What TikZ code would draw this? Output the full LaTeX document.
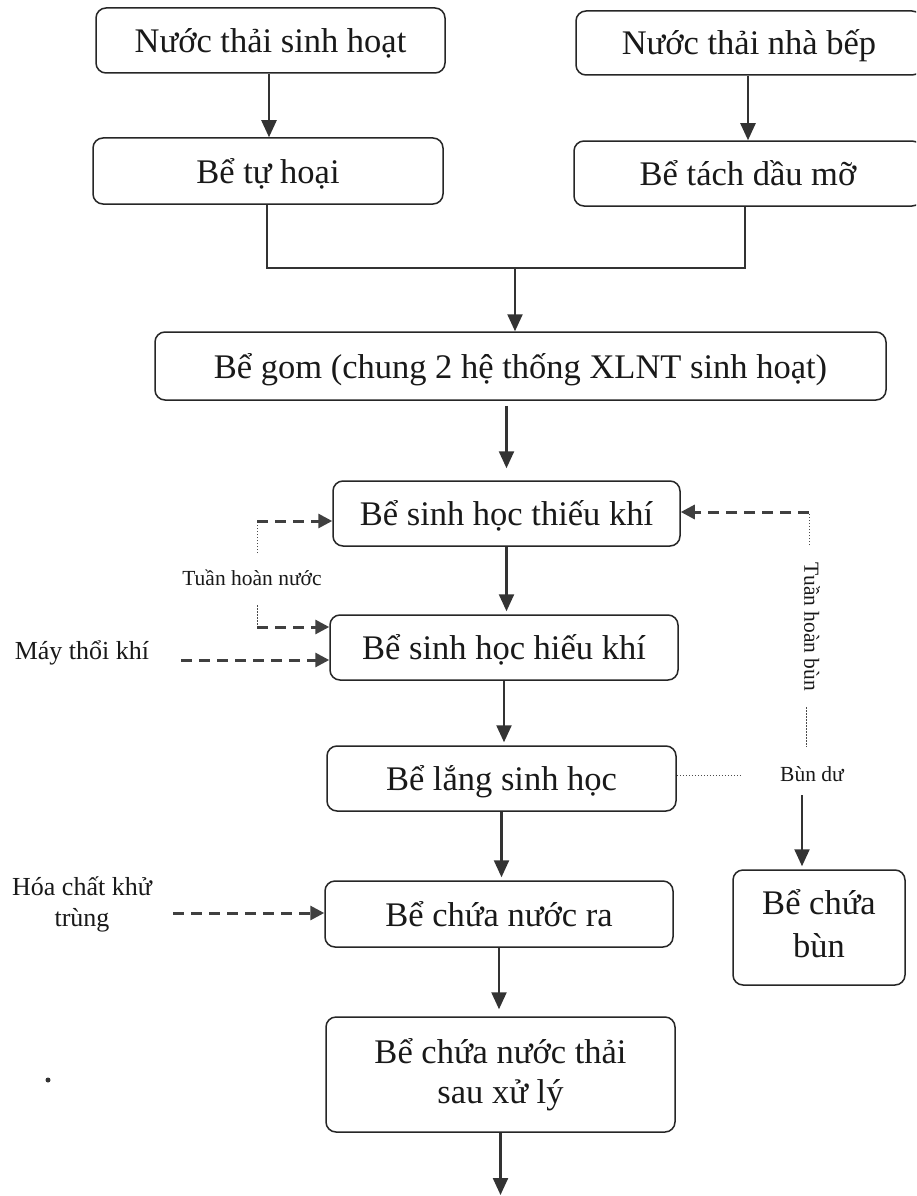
\documentclass[tikz,border=0pt]{standalone}
\usepackage{fontspec}
\setmainfont{Liberation Serif}
\usetikzlibrary{arrows.meta}
\begin{document}
\begin{tikzpicture}[x=1pt,y=-1pt,
  box/.style={draw=black!85, line width=1.5pt, rounded corners=10pt, align=center, inner sep=0pt,
              font=\fontsize{34.5}{40}\selectfont, text=black!90},
  one/.style={text height=29pt, text depth=5pt},
  flow/.style={draw=black!80, line width=2.3pt, -{Triangle[length=17pt,width=15pt]}},
  joinl/.style={draw=black!80, line width=1.3pt},
  feed/.style={draw=black!75, line width=3pt, dash pattern=on 11pt off 7pt, -{Triangle[length=14pt,width=14pt]}},
  dotl/.style={draw=black!70, line width=1pt, dash pattern=on 1.5pt off 1.5pt},
  lab/.style={font=\fontsize{21.5}{26}\selectfont, inner sep=0pt, text=black!90},
  labm/.style={font=\fontsize{26}{31}\selectfont, inner sep=0pt, align=center, text=black!90}]
\clip (0,0) rectangle (916,1196);
\fill[white] (0,0) rectangle (916,1196);

% boxes
\node[box, one, minimum width=349pt, minimum height=65pt] (b1) at (270.5,40.5) {Nước thải sinh hoạt};
\node[box, one, minimum width=346pt, minimum height=64pt] (b2) at (749,43) {Nước thải nhà bếp};
\node[box, one, minimum width=350pt, minimum height=66pt] (b3) at (268,171) {Bể tự hoại};
\node[box, one, minimum width=348pt, minimum height=65pt] (b4) at (748,173.5) {Bể tách dầu mỡ};
\node[box, one, minimum width=731pt, minimum height=68pt] (b5) at (520.5,366) {Bể gom (chung 2 hệ thống XLNT sinh hoạt)};
\node[box, one, minimum width=347pt, minimum height=65pt] (b6) at (506.5,513.5) {Bể sinh học thiếu khí};
\node[box, one, minimum width=348pt, minimum height=65pt] (b7) at (504,647.5) {Bể sinh học hiếu khí};
\node[box, one, minimum width=349pt, minimum height=65pt] (b8) at (501.5,778.5) {Bể lắng sinh học};
\node[box, one, minimum width=348pt, minimum height=66pt] (b9) at (499,914) {Bể chứa nước ra};
\node[box, minimum width=349pt, minimum height=115pt] (b10) at (500.5,1074.5) {Bể chứa nước thải\\sau xử lý};
\node[box, minimum width=172pt, minimum height=115pt] (bb) at (819,927.5) {Bể chứa\\[3pt]bùn\vphantom{g}};

% labels
\node[lab] (thn) at (252,578) {Tuần hoàn nước};
\node[lab, rotate=-90] (thb) at (812,627) {Tuần hoàn bùn};
\node[lab] (bdu) at (812,774) {Bùn dư};
\node[labm] (mtk) at (82,653) {Máy thổi khí};
\node[labm] (hc) at (82,904) {Hóa chất khử\\trùng};

% coordinates
\coordinate (a1) at (269,0);
\coordinate (a2) at (748,0);
\coordinate (j1) at (267,268);
\coordinate (j2) at (745,268);
\coordinate (j3) at (515,268);
\coordinate (out) at (0,1195);

% main flow
\draw[flow] (b1.south -| a1) -- (b3.north -| a1);
\draw[flow] (b2.south -| a2) -- (b4.north -| a2);
\draw[joinl] (b3.south -| j1) -- (j1) -- (j2) -- (b4.south -| j2);
\draw[flow] (j3) -- (b5.north -| j3);
\draw[flow, shorten <=5pt, shorten >=12pt] (b5.south -| b6.north) -- (b6.north);
\draw[flow, shorten >=3pt] (b6.south) -- (b6.south |- b7.north);
\draw[flow, shorten >=3pt] (b7.south) -- (b7.south |- b8.north);
\draw[flow, shorten >=3pt] (b8.south) -- (b8.south |- b9.north);
\draw[flow, shorten >=7pt] (b9.south) -- (b9.south |- b10.north);
\draw[flow] (b10.south) -- (b10.south |- out);

% water recirculation
\coordinate (l1) at (257,553);
\coordinate (l2) at (257,521);
\coordinate (l3) at (257,605);
\coordinate (l4) at (257,627);
\draw[dotl] (l1) -- (l2);
\draw[feed] (l2) -- (b6.west |- l2);
\draw[dotl] (l3) -- (l4);
\draw[feed] (l4) -- (b7.west |- l4);

% blower
\coordinate (m1) at (181,660);
\draw[feed] (m1) -- (b7.west |- m1);

% chemicals
\coordinate (h1) at (173,913);
\draw[feed] (h1) -- (b9.west |- h1);

% sludge recirculation
\coordinate (r1) at (809,512);
\coordinate (r2) at (809,545);
\coordinate (r3) at (806,707);
\coordinate (r4) at (806,747);
\coordinate (bd) at (742,775);
\coordinate (bd2) at (802,795);
\draw[dotl] (r2) -- (r1);
\draw[feed] (r1) -- (b6.east |- r1);
\draw[dotl] (r3) -- (r4);
\draw[dotl] (b8.east |- bd) -- (bd);
\draw[flow, shorten >=3pt] (bd2) -- (bb.north -| bd2);

% speck
\fill[black!80] (48,1080) circle (2.5pt);
\end{tikzpicture}
\end{document}
